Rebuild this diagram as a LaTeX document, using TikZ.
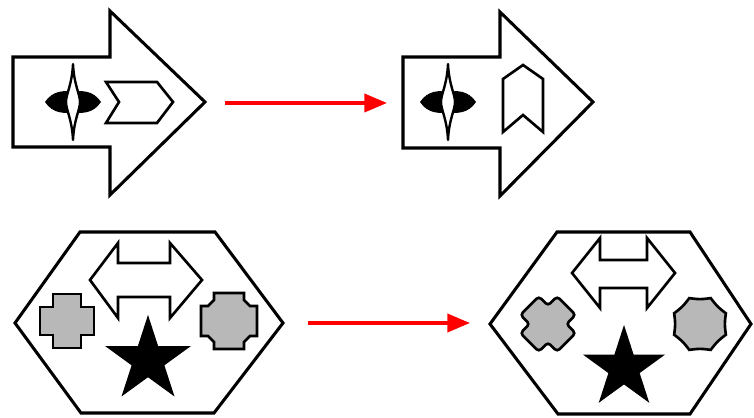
\documentclass[tikz,border=0pt]{standalone}
\usetikzlibrary{arrows.meta,shapes.geometric}

\begin{document}
\begin{tikzpicture}[x=0.0265cm, y=-0.0265cm,
	outline/.style={draw=black, line width=2.3pt, line join=miter, fill=white},
	inner/.style={draw=black, line width=2pt, fill=white},
	token/.style={draw=black, line width=2pt, fill=black!28},
	bigstar/.style={star, star points=5, star point ratio=2.618, fill=black, inner sep=0pt},
	flow/.style={draw=red, line width=2.6pt, -{Triangle[length=6mm, width=4.8mm]}}]
	\useasboundingbox (0,0) rectangle (754,418);

	% top row: the arrow before and after
	\draw[outline] (13,57) -- (110,57) -- (110,11) -- (205,102) -- (110,195) -- (110,147) -- (13,147) -- cycle;
	\draw[outline] (403,57) -- (500,57) -- (500,12) -- (593,102) -- (500,196) -- (500,148) -- (403,148) -- cycle;
	\foreach \cx in {73,448} {
		\begin{scope}[shift={(\cx,102)}]
			\fill[black] (-28,0) .. controls (-20,-12) and (-9,-11) .. (0,-11) .. controls (9,-11) and (20,-12) .. (28,0) .. controls (20,12) and (9,11) .. (0,11) .. controls (-9,11) and (-20,12) .. (-28,0) -- cycle;
			\draw[inner, line width=1.8pt, line join=round] (0,-38) .. controls (1,-17) and (7,-8) .. (7,0) .. controls (7,8) and (1,17) .. (0,38) .. controls (-1,17) and (-7,8) .. (-7,0) .. controls (-7,-8) and (-1,-17) .. (0,-38) -- cycle;
		\end{scope}
	}
	\draw[inner] (106,82) -- (157,82) -- (173,102) -- (157,123) -- (106,123) -- (119,102) -- cycle;
	\draw[inner] (523,65) -- (543,79) -- (543,132) -- (523,115) -- (503,132) -- (503,79) -- cycle;

	% bottom row: the hexagon before and after
	\draw[outline] (80,232) -- (215,232) -- (283,323) -- (214,413) -- (81,413) -- (15,323) -- cycle;
	\draw[outline] (557,232) -- (690,232) -- (751,324) -- (690,414) -- (558,414) -- (490,324) -- cycle;
	\draw[inner] (90,280) -- (118,243) -- (118,263) -- (170,263) -- (170,243) -- (202,280) -- (170,318) -- (170,297) -- (118,297) -- (118,318) -- cycle;
	\draw[inner] (572,273) -- (600,238) -- (600,260) -- (647,260) -- (647,238) -- (675,273) -- (647,308) -- (647,288) -- (600,288) -- (600,308) -- cycle;
	\node[bigstar, minimum size=2.39cm] (starL) at (148,360) {};
	\node[bigstar, minimum size=2.28cm] (starR) at (624,368) {};

	% grey tokens
	\draw[token, shift={(67,321)}] (-14,-27) -- (14,-27) -- (14,-14) -- (27,-14) -- (27,14) -- (14,14) -- (14,27) -- (-14,27) -- (-14,14) -- (-27,14) -- (-27,-14) -- (-14,-14) -- cycle;
	\draw[token, shift={(229,321)}] (-15,-28) -- (15,-28) -- (15,-21) -- (21,-15) -- (28,-15) -- (28,15) -- (21,15) -- (15,21) -- (15,28) -- (-15,28) -- (-15,21) -- (-21,15) -- (-28,15) -- (-28,-15) -- (-21,-15) -- (-15,-21) -- cycle;
	\draw[token, rounded corners=2.5pt, shift={(548,324)}, rotate=45] (-13,-26) -- (13,-26) -- (13,-13) -- (26,-13) -- (26,13) -- (13,13) -- (13,26) -- (-13,26) -- (-13,13) -- (-26,13) -- (-26,-13) -- (-13,-13) -- cycle;
	\draw[token, shift={(700,324)}] (22.5:28) \foreach \k in {1,...,8} { .. controls ({45*\k}:24.5) .. ({22.5+45*\k}:28) } -- cycle;

	% red transition arrows
	\coordinate (topFrom) at (225,103);
	\coordinate (topTo) at (387,103);
	\coordinate (botFrom) at (308,323);
	\coordinate (botTo) at (470,323);
	\draw[flow] (topFrom) -- (topTo);
	\draw[flow] (botFrom) -- (botTo);
\end{tikzpicture}
\end{document}
